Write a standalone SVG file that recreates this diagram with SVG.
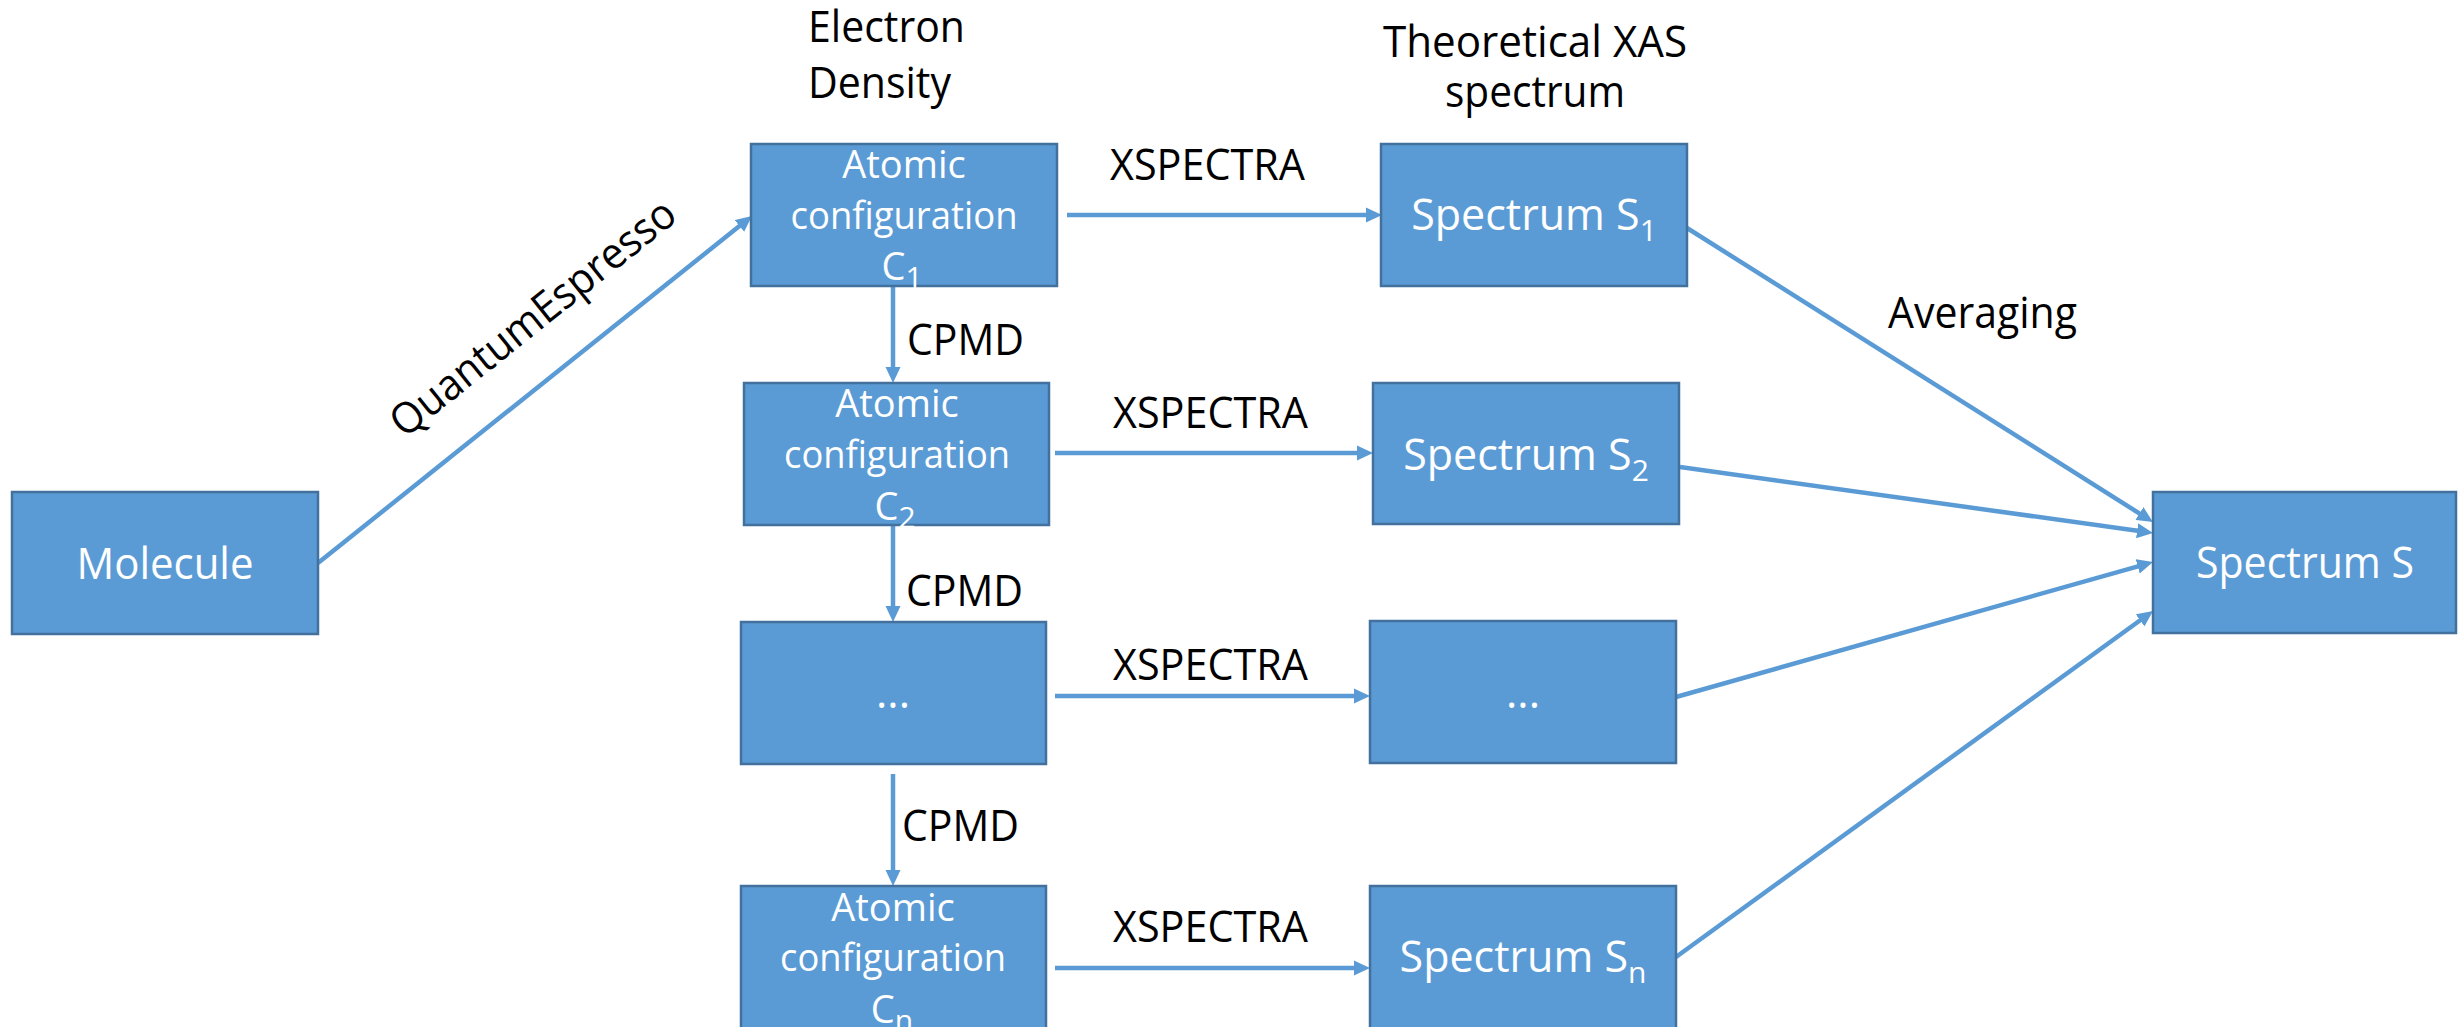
<svg xmlns="http://www.w3.org/2000/svg" width="2458" height="1027" viewBox="0 0 2458 1027">
  <style>
    .box { fill: #5B9BD5; stroke: #41719C; stroke-width: 2.5; }
    .t { font-family: "Open Sans", "Liberation Sans", sans-serif; font-size: 43px; }
    .lbl { fill: #000000; }
    .in { fill: #FFFFFF; }
    .sm { font-size: 38px; }
    .sub { font-size: 30px; }
    .conn line { stroke: #5B9BD5; stroke-width: 4.5; fill: none; marker-end: url(#ah); }
  </style>
  <defs>
    <marker id="ah" markerUnits="userSpaceOnUse" markerWidth="16" markerHeight="16" viewBox="0 0 16 16" refX="4" refY="8" orient="auto">
      <path d="M0,0.5 L16,8 L0,15.5 z" fill="#5B9BD5"/>
    </marker>
  </defs>

  <rect width="2458" height="1027" fill="#FFFFFF"/>

  <!-- connectors -->
  <g id="connectors" class="conn">
    <line x1="318" y1="563" x2="742.6" y2="223.5"/>
    <line x1="1067" y1="215" x2="1370" y2="215"/>
    <line x1="1055" y1="453" x2="1361" y2="453"/>
    <line x1="1055" y1="696" x2="1358" y2="696"/>
    <line x1="1055" y1="968" x2="1358" y2="968"/>
    <line x1="893" y1="283" x2="893" y2="371"/>
    <line x1="893" y1="519" x2="893" y2="610"/>
    <line x1="893" y1="774" x2="893" y2="874"/>
    <line x1="1687" y1="228" x2="2142.8" y2="515.6"/>
    <line x1="1680" y1="467" x2="2141.1" y2="531.3"/>
    <line x1="1676" y1="697" x2="2141.5" y2="565.3"/>
    <line x1="1676" y1="957" x2="2143.3" y2="618"/>
  </g>

  <!-- edge and column labels -->
  <g id="labels" class="t lbl">
    <text x="808" y="42" textLength="157" lengthAdjust="spacingAndGlyphs">Electron</text>
    <text x="808" y="98" textLength="143" lengthAdjust="spacingAndGlyphs">Density</text>
    <text x="1535" y="57" text-anchor="middle" textLength="304" lengthAdjust="spacingAndGlyphs">Theoretical XAS</text>
    <text x="1535" y="107" text-anchor="middle" textLength="180" lengthAdjust="spacingAndGlyphs">spectrum</text>
    <text x="1110" y="180" textLength="195" lengthAdjust="spacingAndGlyphs">XSPECTRA</text>
    <text x="1113" y="428" textLength="195" lengthAdjust="spacingAndGlyphs">XSPECTRA</text>
    <text x="1113" y="680" textLength="195" lengthAdjust="spacingAndGlyphs">XSPECTRA</text>
    <text x="1113" y="942" textLength="195" lengthAdjust="spacingAndGlyphs">XSPECTRA</text>
    <text x="907" y="355" textLength="117" lengthAdjust="spacingAndGlyphs">CPMD</text>
    <text x="906" y="606" textLength="117" lengthAdjust="spacingAndGlyphs">CPMD</text>
    <text x="902" y="841" textLength="117" lengthAdjust="spacingAndGlyphs">CPMD</text>
    <text x="1888" y="328" textLength="189" lengthAdjust="spacingAndGlyphs">Averaging</text>
    <text x="542" y="329" text-anchor="middle" textLength="352" lengthAdjust="spacingAndGlyphs" transform="rotate(-38.65 542 329)">QuantumEspresso</text>
  </g>

  <!-- nodes -->
  <g id="molecule">
    <rect class="box" x="12" y="492" width="306" height="142"/>
    <text class="t in" x="165" y="579" text-anchor="middle" textLength="177" lengthAdjust="spacingAndGlyphs">Molecule</text>
  </g>

  <g id="config-1">
    <rect class="box" x="751" y="144" width="306" height="142"/>
    <text class="t in sm" x="904" y="178" text-anchor="middle">Atomic</text>
    <text class="t in sm" x="904" y="229" text-anchor="middle" textLength="227" lengthAdjust="spacingAndGlyphs">configuration</text>
    <text class="t in sm" x="902" y="280" text-anchor="middle">C<tspan class="sub" dy="8">1</tspan></text>
  </g>

  <g id="config-2">
    <rect class="box" x="744" y="383" width="305" height="142"/>
    <text class="t in sm" x="897" y="417" text-anchor="middle">Atomic</text>
    <text class="t in sm" x="897" y="468" text-anchor="middle" textLength="226" lengthAdjust="spacingAndGlyphs">configuration</text>
    <text class="t in sm" x="895" y="520" text-anchor="middle">C<tspan class="sub" dy="8">2</tspan></text>
  </g>

  <g id="config-dots">
    <rect class="box" x="741" y="622" width="305" height="142"/>
    <text class="t in" x="893" y="708" text-anchor="middle">...</text>
  </g>

  <g id="config-n">
    <rect class="box" x="741" y="886" width="305" height="150"/>
    <text class="t in sm" x="893" y="921" text-anchor="middle">Atomic</text>
    <text class="t in sm" x="893" y="971" text-anchor="middle" textLength="226" lengthAdjust="spacingAndGlyphs">configuration</text>
    <text class="t in sm" x="892" y="1023" text-anchor="middle">C<tspan class="sub" dy="8">n</tspan></text>
  </g>

  <g id="spectrum-1">
    <rect class="box" x="1381" y="144" width="306" height="142"/>
    <text class="t in" x="1534" y="230" text-anchor="middle">Spectrum S<tspan class="sub" dy="11">1</tspan></text>
  </g>

  <g id="spectrum-2">
    <rect class="box" x="1373" y="383" width="306" height="141"/>
    <text class="t in" x="1526" y="470" text-anchor="middle">Spectrum S<tspan class="sub" dy="11">2</tspan></text>
  </g>

  <g id="spectrum-dots">
    <rect class="box" x="1370" y="621" width="306" height="142"/>
    <text class="t in" x="1523" y="708" text-anchor="middle">...</text>
  </g>

  <g id="spectrum-n">
    <rect class="box" x="1370" y="886" width="306" height="150"/>
    <text class="t in" x="1523" y="972" text-anchor="middle">Spectrum S<tspan class="sub" dy="11">n</tspan></text>
  </g>

  <g id="spectrum-avg">
    <rect class="box" x="2153" y="492" width="303" height="141"/>
    <text class="t in" x="2305" y="578" text-anchor="middle" textLength="218" lengthAdjust="spacingAndGlyphs">Spectrum S</text>
  </g>
</svg>
